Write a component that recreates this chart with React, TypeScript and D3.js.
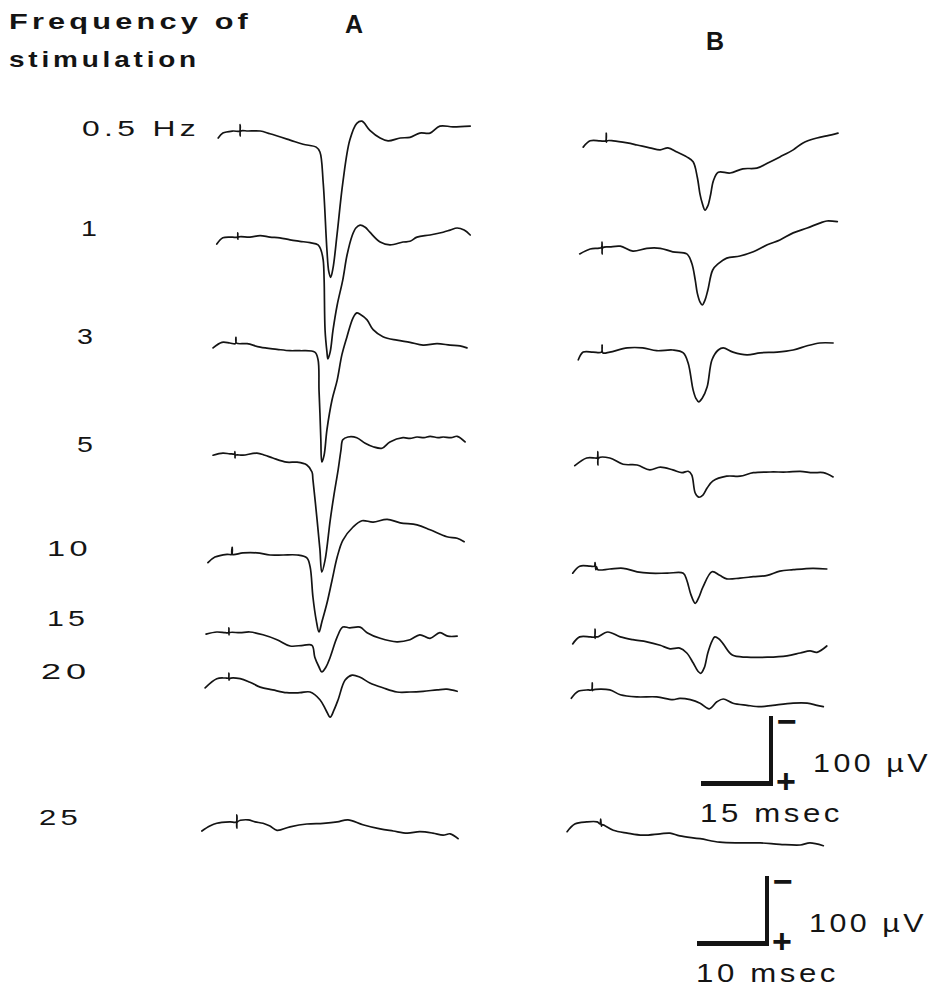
import { useEffect, useRef } from 'react';
import * as d3 from 'd3';

type Pt = [number, number];

// Stimulation frequencies (row labels)
const frequencies = ['0.5 Hz', '1', '3', '5', '10', '15', '20', '25'];
const columns = ['A', 'B'];

// Calibration bars: [msec, µV]
const calibA: Pt = [15, 100];
const calibB: Pt = [10, 100];

// Traces: [time (msec), voltage (µV)], positive = downward
// (the "+" of the calibration bar is at the bottom)
const traceA05: Pt[] = [[3.9, 15], [4.9, 8], [7.1, 5], [8.5, 5], [8.6, -4], [8.6, 12], [8.7, 5], [10.3, 5], [12.9, 5], [15.0, 9], [19.3, 18], [22.1, 24], [24.9, 28], [25.7, 35], [26.4, 79], [27.2, 175], [27.6, 206], [28.0, 214], [28.5, 201], [29.4, 151], [30.6, 79], [32.1, 18], [33.6, -6], [34.7, -9], [36.4, 4], [38.6, 15], [40.3, 19], [42.9, 15], [45.0, 14], [47.1, 8], [49.3, 8], [51.4, -2], [54.2, -1], [57.9, -2]];
const traceA1: Pt[] = [[3.6, 23], [4.9, 14], [6.9, 13], [8.0, 13], [8.1, 7], [8.1, 16], [8.2, 13], [10.7, 13], [12.9, 11], [15.0, 13], [17.1, 14], [19.3, 17], [21.4, 19], [23.6, 21], [25.3, 24], [25.9, 31], [26.4, 46], [26.6, 74], [26.8, 146], [27.2, 177], [27.4, 187], [27.9, 177], [28.5, 146], [29.4, 110], [30.6, 74], [31.5, 39], [32.6, 11], [33.4, 0], [34.3, -4], [35.4, -1], [36.4, 6], [38.6, 20], [40.7, 24], [43.5, 20], [45.0, 19], [46.5, 13], [49.3, 10], [52.1, 6], [53.6, 3], [55.1, 0], [56.6, 3], [57.9, 10]];
const traceA3: Pt[] = [[2.8, 17], [4.7, 9], [6.4, 10], [7.6, 11], [7.7, 2], [7.8, 10], [10.1, 11], [12.9, 16], [16.5, 19], [19.3, 21], [21.4, 21], [24.6, 23], [25.3, 34], [25.5, 77], [25.7, 110], [25.9, 149], [26.1, 180], [26.6, 170], [27.2, 134], [28.3, 91], [29.4, 63], [30.4, 27], [31.5, 1], [32.8, -26], [33.6, -33], [34.3, -31], [35.8, -23], [37.1, -9], [39.2, 1], [42.2, 6], [45.0, 9], [47.8, 13], [50.8, 11], [53.6, 13], [55.7, 14], [57.2, 17]];
const traceA5: Pt[] = [[2.8, 16], [4.9, 13], [6.4, 14], [7.4, 14], [7.5, 11], [7.5, 20], [7.6, 16], [9.2, 16], [12.2, 13], [13.9, 16], [15.6, 20], [18.6, 26], [20.8, 26], [22.9, 30], [24.0, 40], [24.2, 51], [25.1, 109], [25.7, 151], [26.1, 183], [26.8, 166], [27.9, 109], [28.7, 73], [29.6, 37], [30.2, 9], [30.6, -6], [31.7, -10], [33.6, -9], [35.4, -1], [37.1, 4], [39.0, 6], [40.7, -3], [43.5, -9], [45.0, -8], [46.5, -10], [48.0, -9], [49.3, -11], [51.0, -9], [52.1, -10], [53.8, -9], [55.1, -11], [56.8, -3]];
const traceA10: Pt[] = [[1.7, 21], [3.2, 13], [5.8, 9], [6.8, 9], [6.9, -1], [6.9, 9], [9.2, 7], [12.2, 7], [15.0, 10], [17.8, 10], [20.8, 10], [22.9, 14], [23.6, 27], [24.2, 70], [24.9, 103], [25.5, 120], [26.1, 106], [27.2, 79], [28.3, 46], [29.4, 13], [30.6, -11], [32.8, -30], [34.7, -39], [37.1, -37], [40.1, -41], [42.9, -36], [46.5, -33], [49.3, -26], [52.9, -16], [55.1, -14], [56.6, -9]];
const traceA15: Pt[] = [[1.3, 23], [3.6, 20], [5.4, 21], [6.1, 21], [6.2, 14], [6.2, 24], [6.3, 21], [8.6, 21], [10.7, 20], [13.5, 24], [16.5, 31], [19.3, 40], [22.1, 39], [24.0, 39], [24.6, 56], [25.5, 70], [26.1, 77], [27.0, 70], [27.9, 56], [29.4, 27], [30.6, 13], [32.1, 14], [34.3, 13], [35.8, 21], [38.6, 29], [42.2, 34], [45.0, 31], [47.1, 24], [49.3, 29], [51.4, 21], [53.1, 26], [55.1, 26]];
const traceA20: Pt[] = [[1.1, 24], [3.6, 11], [5.4, 10], [6.1, 10], [6.2, 3], [6.2, 13], [6.3, 11], [8.6, 11], [10.7, 16], [12.9, 23], [15.6, 27], [18.6, 31], [21.4, 31], [23.6, 30], [25.7, 41], [27.0, 56], [27.9, 66], [28.7, 56], [29.6, 41], [31.1, 13], [32.6, 6], [34.3, 9], [36.4, 17], [39.2, 24], [42.2, 30], [45.0, 30], [47.8, 29], [50.8, 27], [52.9, 26], [55.1, 29]];
const traceA25: Pt[] = [[0.4, 20], [2.1, 13], [3.6, 9], [6.4, 7], [7.8, 7], [7.9, -3], [7.9, 16], [8.0, 7], [10.3, 4], [11.8, 7], [13.5, 9], [15.0, 13], [16.5, 19], [19.3, 14], [22.9, 10], [26.4, 9], [29.4, 7], [31.7, 4], [34.9, 11], [38.6, 17], [41.4, 20], [44.4, 23], [47.1, 21], [49.9, 23], [52.1, 26], [53.6, 24], [55.3, 31]];

const traceB05: Pt[] = [[2.6, 28], [3.6, 19], [5.0, 19], [5.8, 19], [5.9, 8], [5.9, 21], [6.0, 19], [6.9, 19], [8.9, 22], [10.3, 25], [12.1, 29], [13.6, 32], [14.7, 29], [16.0, 35], [17.4, 42], [18.3, 49], [18.9, 71], [19.3, 96], [19.6, 108], [20.0, 118], [20.4, 112], [20.8, 96], [21.2, 76], [21.9, 64], [23.6, 65], [25.4, 59], [27.4, 58], [28.9, 51], [30.7, 42], [32.6, 32], [34.0, 22], [36.0, 15], [37.4, 12], [39.0, 8]];
const traceB1: Pt[] = [[2.1, 37], [3.6, 30], [4.7, 29], [5.2, 28], [5.3, 20], [5.3, 37], [5.4, 28], [6.4, 27], [7.9, 26], [9.7, 33], [11.7, 29], [13.6, 29], [15.4, 34], [17.4, 37], [18.1, 50], [18.6, 74], [18.9, 93], [19.3, 106], [19.6, 110], [20.0, 103], [20.4, 89], [21.1, 60], [21.9, 51], [23.1, 43], [25.0, 40], [26.9, 34], [28.9, 24], [30.7, 17], [32.6, 7], [34.6, 0], [36.4, -7], [37.4, -10], [38.9, -9]];
const traceB3: Pt[] = [[1.9, 34], [2.6, 23], [4.0, 23], [5.2, 23], [5.3, 13], [5.4, 24], [6.4, 23], [8.9, 17], [11.1, 17], [13.1, 21], [15.4, 20], [16.9, 24], [17.6, 39], [18.3, 77], [18.7, 89], [19.1, 94], [19.6, 89], [20.3, 73], [21.0, 34], [21.9, 20], [22.6, 17], [24.0, 23], [26.0, 27], [27.9, 24], [30.3, 23], [32.6, 20], [34.6, 14], [36.4, 10], [38.3, 10]];
const traceB5: Pt[] = [[1.4, 31], [3.1, 20], [4.3, 20], [4.6, 20], [4.7, 11], [4.7, 30], [4.8, 20], [6.4, 20], [8.3, 29], [10.3, 30], [12.1, 37], [13.6, 33], [15.4, 37], [16.7, 41], [17.6, 39], [18.1, 44], [18.6, 70], [19.1, 76], [19.7, 73], [20.3, 63], [21.1, 53], [23.1, 46], [25.0, 46], [26.9, 41], [29.3, 40], [31.7, 40], [33.6, 39], [35.4, 41], [36.9, 41], [38.3, 47]];
const traceB10: Pt[] = [[1.1, 36], [2.1, 26], [3.6, 26], [4.2, 26], [4.3, 21], [4.4, 31], [4.5, 27], [4.7, 31], [6.4, 30], [8.3, 29], [10.3, 34], [12.1, 36], [14.6, 36], [16.9, 36], [17.4, 46], [18.0, 67], [18.6, 79], [19.1, 71], [19.7, 56], [21.0, 34], [22.1, 39], [23.1, 44], [25.0, 43], [26.9, 41], [28.9, 39], [30.7, 33], [32.6, 31], [35.4, 29], [37.4, 30]];
const traceB15: Pt[] = [[1.1, 37], [2.1, 27], [3.6, 27], [4.2, 27], [4.3, 16], [4.3, 29], [4.4, 27], [4.7, 27], [6.1, 20], [7.9, 27], [9.7, 31], [11.7, 34], [13.6, 39], [15.0, 44], [16.4, 43], [17.4, 50], [18.3, 64], [19.0, 76], [19.4, 79], [19.9, 71], [20.4, 50], [21.0, 33], [21.4, 27], [22.0, 30], [22.6, 37], [23.9, 53], [26.0, 56], [28.9, 56], [31.7, 54], [33.6, 50], [35.0, 47], [36.0, 49], [37.4, 40]];
const traceB20: Pt[] = [[0.9, 39], [1.9, 29], [3.3, 27], [3.8, 27], [3.9, 17], [3.9, 28], [4.0, 27], [6.4, 27], [7.9, 34], [10.3, 37], [13.1, 37], [15.4, 41], [16.4, 39], [17.9, 41], [19.3, 46], [20.6, 54], [21.7, 44], [22.6, 40], [24.0, 46], [26.0, 49], [27.9, 51], [29.7, 49], [32.6, 46], [34.6, 46], [36.0, 49], [36.9, 51]];
const traceB25: Pt[] = [[0.3, 21], [1.4, 10], [3.1, 7], [4.6, 7], [5.0, 10], [5.1, 3], [5.2, 13], [5.3, 11], [6.9, 19], [8.9, 23], [11.1, 26], [13.6, 24], [15.0, 23], [16.4, 27], [19.3, 31], [22.1, 36], [25.0, 37], [27.9, 37], [30.7, 39], [33.6, 40], [35.0, 37], [36.9, 41]];

const tracesA = [traceA05, traceA1, traceA3, traceA5, traceA10, traceA15, traceA20, traceA25];
const tracesB = [traceB05, traceB1, traceB3, traceB5, traceB10, traceB15, traceB20, traceB25];

export default function App() {
    const svgRef = useRef<SVGSVGElement>(null);

    useEffect(() => {
        const width = 934;
        const height = 988;
        const font = '"Liberation Sans", Arial, Helvetica, sans-serif';
        const ink = '#141414';

        const svg = d3.select(svgRef.current)
            .attr('width', width)
            .attr('height', height)
            .html('');

        svg.append('rect').attr('width', width).attr('height', height).attr('fill', '#fff');

        // wide, letter-spaced lettering like the original figure
        const label = (parent: any, str: string, x: number, y: number, size: number, len: number, bold = false, anchor = 'start') => {
            const t = parent.append('text')
                .attr('x', x)
                .attr('y', y)
                .attr('font-family', font)
                .attr('font-size', size)
                .attr('font-weight', bold ? 'bold' : 'normal')
                .attr('fill', ink)
                .attr('text-anchor', anchor)
                .attr('letter-spacing', str.length > 1 ? 3 : 0)
                .text(str);
            if (len > 0) t.attr('textLength', len).attr('lengthAdjust', 'spacingAndGlyphs');
            return t;
        };

        // layout: row positions (centre of the label) and column origins
        const rowY = [127.5, 228, 336, 444, 548, 618, 671, 817];
        const labelX = [82, 81, 77, 77, 47, 47, 41, 39];
        const labelLen = [118, 0, 0, 0, 45, 42, 50, 43];
        const colX = [200, 565];

        // 15 msec / 10 msec span the same 70 px; 100 µV = 70 px
        const xA = d3.scaleLinear().domain([0, calibA[0]]).range([0, 70]);
        const xB = d3.scaleLinear().domain([0, calibB[0]]).range([0, 70]);
        const yV = d3.scaleLinear().domain([0, 100]).range([0, 70]);

        // title
        label(svg, 'Frequency  of', 9, 29, 22, 243, true);
        label(svg, 'stimulation', 9, 67, 22, 191, true);

        // column headers
        const headX = [354, 715];
        const headY = [33, 50];
        columns.forEach((c, i) => label(svg, c, headX[i], headY[i], 25, 0, true, 'middle'));

        // row labels
        const rows = svg.append('g');
        frequencies.forEach((f, i) => {
            const t = label(rows, f, labelX[i], rowY[i] + 8, 22, labelLen[i]);
            if (labelLen[i] === 0) t.attr('transform', `translate(${labelX[i]},0) scale(1.3,1) translate(${-labelX[i]},0)`);
        });

        // traces
        const drawColumn = (traces: Pt[][], x: d3.ScaleLinear<number, number>, cx: number) => {
            const g = svg.append('g').attr('transform', `translate(${cx},0)`);
            traces.forEach((tr, i) => {
                const line = d3.line<Pt>()
                    .x(d => x(d[0]))
                    .y(d => rowY[i] + yV(d[1]))
                    .curve(d3.curveCatmullRom.alpha(0.5));
                g.append('path')
                    .attr('d', line(tr))
                    .attr('fill', 'none')
                    .attr('stroke', ink)
                    .attr('stroke-width', 1.7)
                    .attr('stroke-linejoin', 'round')
                    .attr('stroke-linecap', 'round');
            });
        };
        drawColumn(tracesA, xA, colX[0]);
        drawColumn(tracesB, xB, colX[1]);

        // calibration bars
        const drawCalib = (cal: Pt, x: d3.ScaleLinear<number, number>, cornerX: number, cornerY: number) => {
            const g = svg.append('g').attr('transform', `translate(${cornerX},${cornerY})`);
            const w = x(cal[0]) - x(0);
            const h = yV(cal[1]) - yV(0);
            g.append('line')
                .attr('x1', -w).attr('x2', 2).attr('y1', -2.5).attr('y2', -2.5)
                .attr('stroke', ink).attr('stroke-width', 5);
            g.append('line')
                .attr('x1', 0).attr('x2', 0).attr('y1', 0).attr('y2', -h)
                .attr('stroke', ink).attr('stroke-width', 4);
            label(g, '\u2212', 16, -h + 17, 34, 0, true, 'middle');
            label(g, '+', 15, 7, 34, 0, true, 'middle');
            label(g, `${cal[1]} \u00b5V`, 42, -14, 26, 118);
            label(g, `${cal[0]} msec`, -w - 1, 36, 26, 143);
        };
        drawCalib(calibA, xA, 771, 786);
        drawCalib(calibB, xB, 767, 946);
    }, []);

    return (
        <svg ref={svgRef} style={{ position: 'absolute', left: 0, top: 0, display: 'block' }}></svg>
    );
}
